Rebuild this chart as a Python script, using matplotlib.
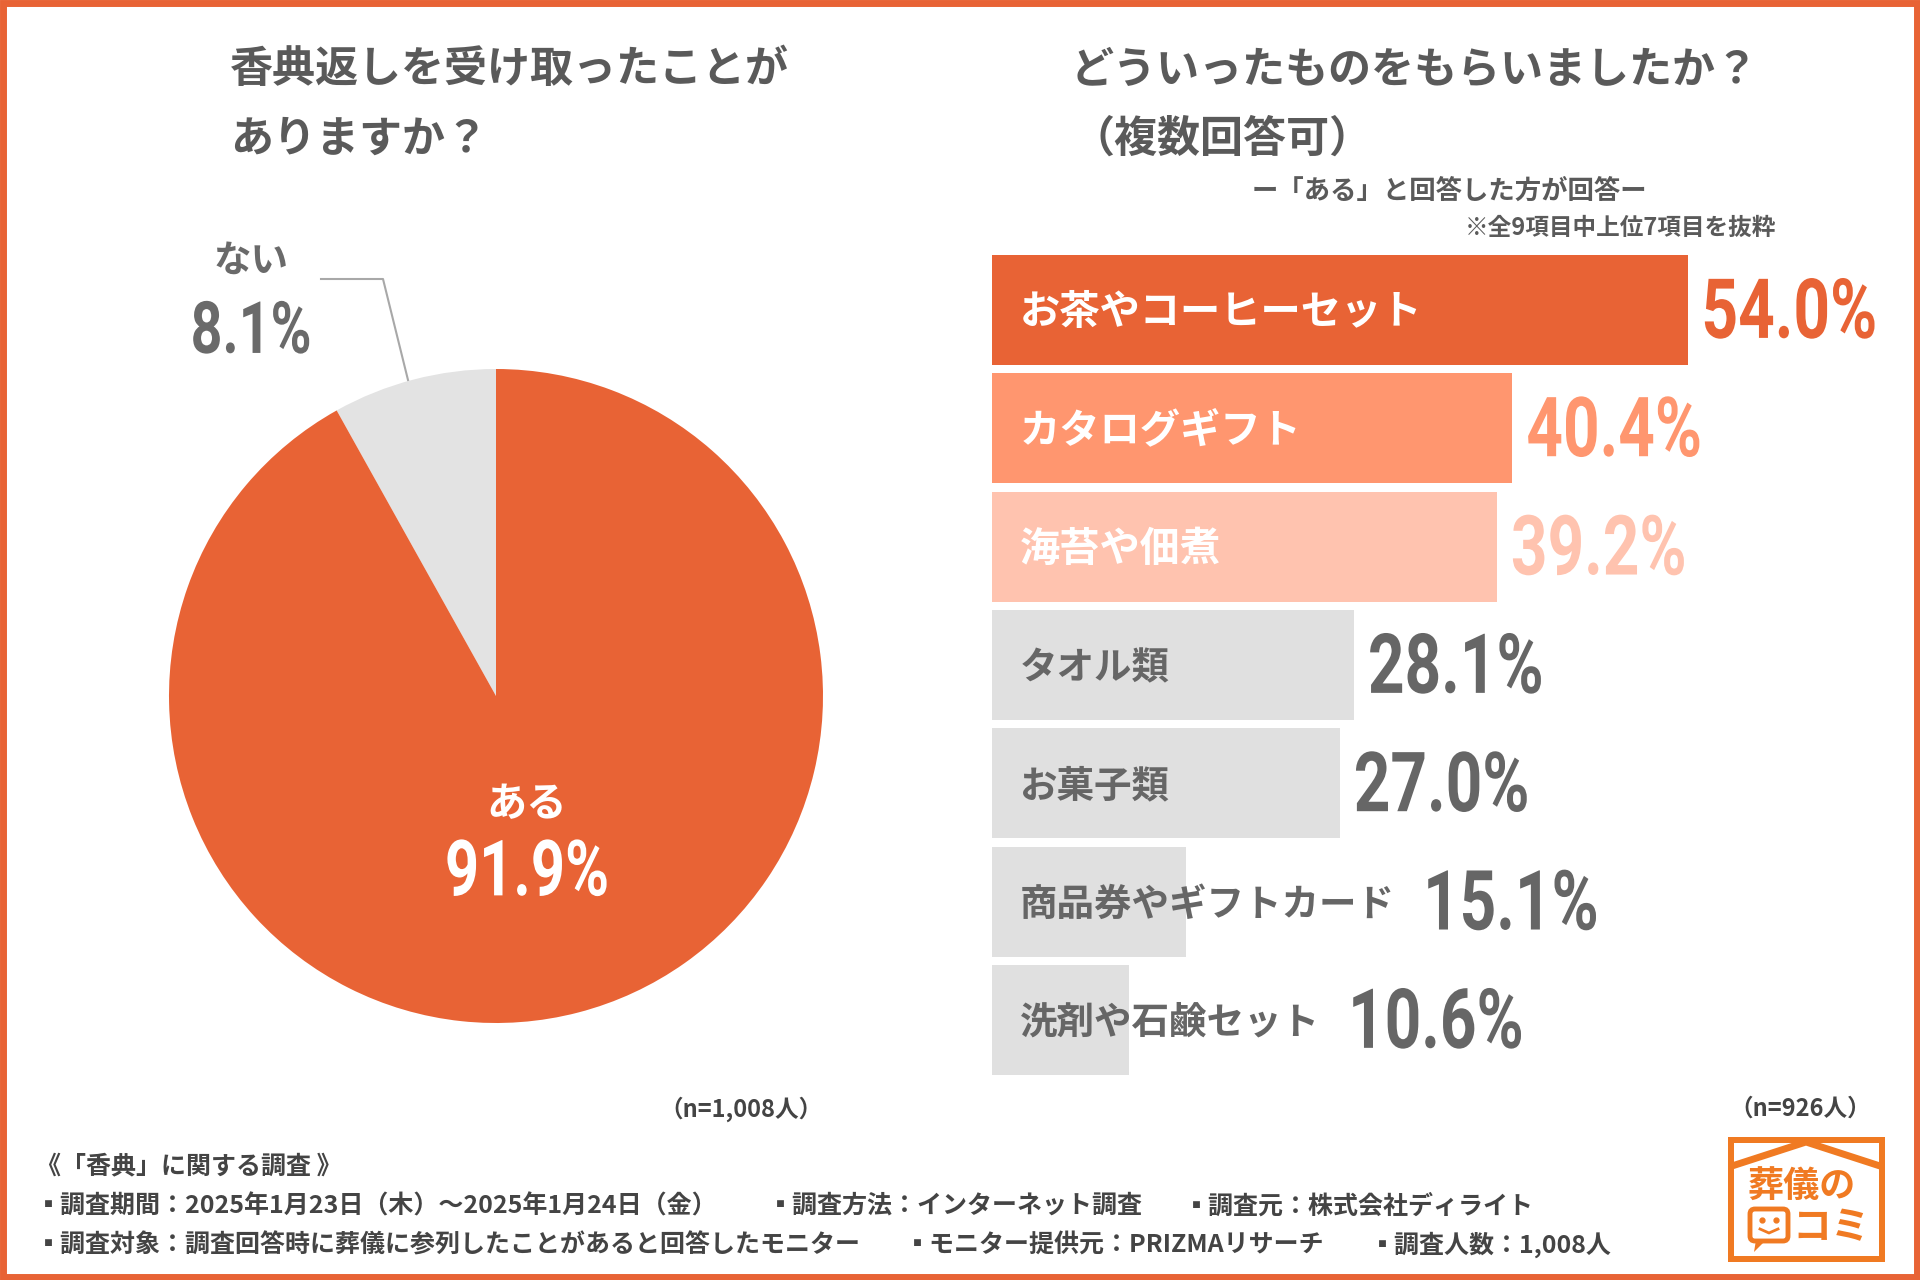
import matplotlib
matplotlib.use("Agg")
import matplotlib.pyplot as plt
from matplotlib.patches import Rectangle, Polygon, FancyBboxPatch
from matplotlib.patheffects import AbstractPathEffect
from matplotlib.transforms import Affine2D

plt.rcParams['font.family'] = ['Noto Sans CJK JP', 'DejaVu Sans']

# data
pie_labels = ["ない", "ある"]
pie_values = [8.1, 91.9]
pie_colors = ["#E3E3E3", "#E86335"]

items = ["お茶やコーヒーセット", "カタログギフト", "海苔や佃煮", "タオル類",
         "お菓子類", "商品券やギフトカード", "洗剤や石鹸セット"]
shares = [54.0, 40.4, 39.2, 28.1, 27.0, 15.1, 10.6]
bar_colors = ["#E86335", "#FF966F", "#FFC3AF", "#E0E0E0", "#E0E0E0", "#E0E0E0", "#E0E0E0"]
label_colors = ["white", "white", "white", "#666666", "#666666", "#666666", "#666666"]
label_sizes = [29, 29, 29, 27, 27, 27, 27]
value_colors = ["#E86335", "#FF966F", "#FFC3AF", "#666666", "#666666", "#666666", "#666666"]

title_left = "香典返しを受け取ったことが\nありますか？"
title_right = "どういったものをもらいましたか？\n（複数回答可）"
sub_right = "ー「ある」と回答した方が回答ー"
note_right = "※全9項目中上位7項目を抜粋"
n_left = "（n=1,008人）"
n_right = "（n=926人）"

W, H = 1920, 1280
ORANGE = "#E86335"
GRAY = "#5A5A5A"
NUM_FONT = ['Roboto', 'DejaVu Sans']


class TallText(AbstractPathEffect):
    # stretch glyphs vertically around their middle, a stand-in for a condensed face
    def __init__(self, sy=1.3):
        super().__init__()
        self.sy = sy

    def draw_path(self, renderer, gc, tpath, affine, rgbFace=None):
        ext = tpath.get_extents(affine)
        mid = (ext.y0 + ext.y1) / 2
        aff = affine + Affine2D().translate(0, -mid).scale(1, self.sy).translate(0, mid)
        renderer.draw_path(gc, tpath, aff, rgbFace)


tall = [TallText(1.3)]

fig = plt.figure(figsize=(19.2, 12.8), dpi=100)
fig.patch.set_facecolor("white")

# pie
cx, cy, r = 496, 696, 327
pax = fig.add_axes([(cx - r) / W, (H - cy - r) / H, 2 * r / W, 2 * r / H])
pax.pie(pie_values, colors=pie_colors, startangle=90, counterclock=True,
        radius=1, wedgeprops=dict(linewidth=0))
pax.set_xlim(-1, 1)
pax.set_ylim(-1, 1)
pax.set_aspect("equal")
pax.axis("off")

# bars
bx0, bx1 = 992, 1900
by0, by1 = 255, 1075
bax = fig.add_axes([bx0 / W, (H - by1) / H, (bx1 - bx0) / W, (by1 - by0) / H])
xmax = (bx1 - bx0) / 12.88
ypos = list(range(len(items)))
bax.barh(ypos, shares, height=0.93, color=bar_colors, linewidth=0)
bax.set_xlim(0, xmax)
bax.set_ylim(len(items) - 1 + 0.465, -0.465)
bax.axis("off")

px_per_unit = (bx1 - bx0) / xmax
label_texts = []
for i, name in enumerate(items):
    t = bax.text(28 / px_per_unit, i + 0.02, name, ha="left", va="center",
                 fontsize=label_sizes[i], fontweight="bold", color=label_colors[i], zorder=5)
    label_texts.append(t)

fig.canvas.draw()
renderer = fig.canvas.get_renderer()
inv = bax.transData.inverted()
for i, v in enumerate(shares):
    ext = label_texts[i].get_window_extent(renderer)
    lab_end = inv.transform((ext.x1, 0))[0]
    if lab_end > v:
        x = lab_end + 28 / px_per_unit
    else:
        x = v + 14 / px_per_unit
    bax.text(x, i + 0.03, f"{v:.1f}%", ha="left", va="center", fontsize=46,
             fontweight="bold", color=value_colors[i], family=NUM_FONT, zorder=5,
             path_effects=tall)

# overlay for free text in pixel coords
ov = fig.add_axes([0, 0, 1, 1])
ov.set_xlim(0, W)
ov.set_ylim(H, 0)
ov.axis("off")
ov.patch.set_visible(False)

ov.text(230, 104, title_left, ha="left", va="center", fontsize=31,
        fontweight="bold", color=GRAY, linespacing=1.75)
ov.text(1071, 104, title_right, ha="left", va="center", fontsize=31,
        fontweight="bold", color=GRAY, linespacing=1.75)
ov.text(1449, 191, sub_right, ha="center", va="center", fontsize=19,
        fontweight="bold", color=GRAY)
ov.text(1776, 228, note_right, ha="right", va="center", fontsize=17,
        fontweight="bold", color=GRAY)

# pie labels
ov.text(251, 260, pie_labels[0], ha="center", va="center", fontsize=27,
        fontweight="bold", color="#6A6A6A")
ov.text(251, 332, f"{pie_values[0]:.1f}%", ha="center", va="center", fontsize=40,
        fontweight="bold", color="#6A6A6A", family=NUM_FONT, path_effects=tall)
ov.plot([321, 383, 408], [279, 279, 380], color="#A8A8A8", lw=1.5)
ov.text(527, 805, pie_labels[1], ha="center", va="center", fontsize=29,
        fontweight="bold", color="white")
ov.text(527, 873, f"{pie_values[1]:.1f}%", ha="center", va="center", fontsize=43,
        fontweight="bold", color="white", family=NUM_FONT, path_effects=tall)

ov.text(741, 1109, n_left, ha="center", va="center", fontsize=17,
        fontweight="bold", color="#444444")
ov.text(1800, 1109, n_right, ha="center", va="center", fontsize=17,
        fontweight="bold", color="#444444")

# footer
fkw = dict(ha="left", va="center", fontsize=18, fontweight="bold", color="#444444")
ov.text(36, 1166, "《「香典」に関する調査 》", **fkw)
ov.text(36, 1206, "▪調査期間：2025年1月23日（木）～2025年1月24日（金）", **fkw)
ov.text(768, 1206, "▪調査方法：インターネット調査", **fkw)
ov.text(1184, 1206, "▪調査元：株式会社ディライト", **fkw)
ov.text(36, 1245, "▪調査対象：調査回答時に葬儀に参列したことがあると回答したモニター", **fkw)
ov.text(905, 1245, "▪モニター提供元：PRIZMAリサーチ", **fkw)
ov.text(1370, 1245, "▪調査人数：1,008人", **fkw)

# logo
LOGO = "#F07A22"
ov.add_patch(Rectangle((1728, 1137), 157, 125, facecolor=LOGO, edgecolor="none"))
ov.add_patch(Rectangle((1734, 1143), 145, 113, facecolor="white", edgecolor="none"))
ov.plot([1732, 1806, 1880], [1166, 1142, 1166], color=LOGO, lw=5, solid_capstyle="butt")
ov.text(1802, 1187, "葬儀の", ha="center", va="center", fontsize=26,
        fontweight="bold", color=LOGO)
ov.add_patch(FancyBboxPatch((1750, 1209), 38, 32, boxstyle="round,pad=0,rounding_size=5",
                            facecolor="white", edgecolor=LOGO, lw=3.5))
ov.add_patch(Polygon([[1756, 1240], [1766, 1240], [1754, 1252]], facecolor=LOGO,
                     edgecolor="none"))
ov.plot([1762], [1220], "o", color=LOGO, ms=3.5)
ov.plot([1776], [1220], "o", color=LOGO, ms=3.5)
ov.plot([1760, 1769, 1778], [1229, 1233, 1229], color=LOGO, lw=2)
ov.text(1831, 1228, "コミ", ha="center", va="center", fontsize=28,
        fontweight="bold", color=LOGO)

# outer frame
ov.add_patch(Rectangle((3, 3), W - 6, H - 6, facecolor="none", edgecolor=ORANGE, lw=5))

fig.savefig("out.png", dpi=100, facecolor="white")
